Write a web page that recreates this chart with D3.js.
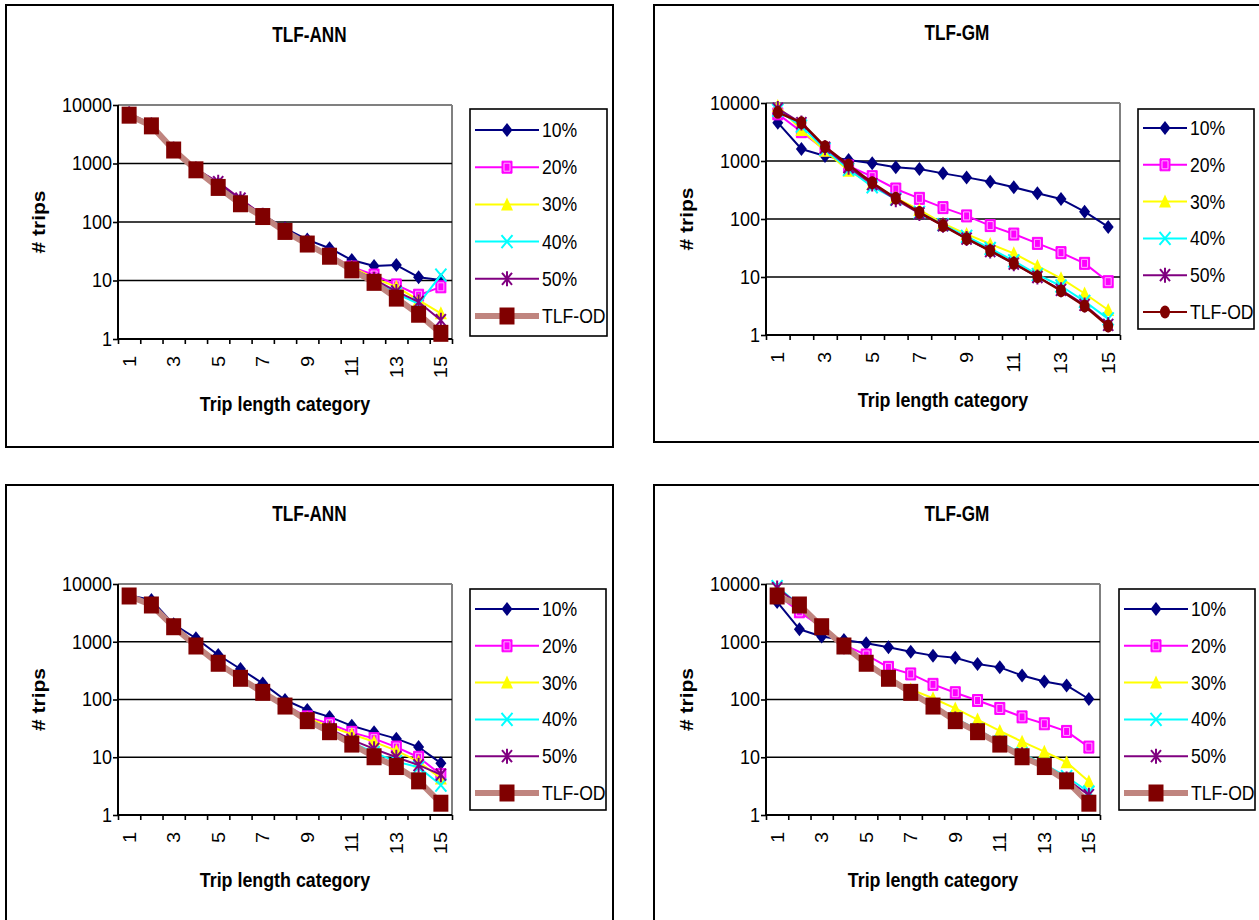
<!DOCTYPE html>
<html>
<head>
<meta charset="utf-8">
<script src="https://cdn.jsdelivr.net/npm/d3@7"></script>
<style>
body{margin:0;background:#fff}
svg{display:block}
text{font-family:"Liberation Sans",Arial,sans-serif;fill:#000}
</style>
</head>
<body>
<script>
// categories and labels
var categories = [1,2,3,4,5,6,7,8,9,10,11,12,13,14,15]
var xTickLabels = [1,3,5,7,9,11,13,15]
var yTicks = [1,10,100,1000,10000]
var seriesNames = ["10%","20%","30%","40%","50%","TLF-OD"]

// values, one row per series (10% .. 50%, TLF-OD)
var annTop = [
  [7200,4700,1800,830,450,235,132,78,50,35.6,22.4,17.7,18.4,11.4,10.2],
  [6800,4450,1720,790,400,215,126,72,44,28,17,12.4,8.4,5.6,7.8],
  [6800,4450,1720,790,400,212,126,72,44,27,17,11,7.8,4.6,2.75],
  [6700,4400,1700,780,390,205,124,70,42,26,15.5,10,6,4,12.4],
  [7000,4500,1750,800,480,250,130,74,45,27,16,10.5,6.5,4.3,2.1],
  [6700,4400,1700,780,390,205,124,69,42,26,15.2,9.3,5.0,2.65,1.25]
]
var gmTop = [
  [4580,1610,1220,1040,912,778,728,612,522,440,352,277,221,134,73],
  [6500,3200,1550,820,537,329,227,157,113,77,55,38,26.3,17.2,8.3],
  [8900,3420,1500,680,400,232,143,84,55,37,25.6,15.5,9.5,5.2,2.7],
  [7500,4000,1600,720,360,220,130,80,50,31,19,11,7,3.8,1.9],
  [8000,4500,1700,780,400,215,125,78,46,28,17,10,6,3.3,1.5],
  [6900,4570,1765,853,423,228,130,77,45.7,28.4,17.2,10.1,5.8,3.16,1.43]
]
var annBottom = [
  [6400,5300,2000,1150,590,337,190,98,66,50,35,27,21,15,7.9],
  [6300,4400,1850,870,440,245,140,80,50,38,27,21,15,10,5],
  [6300,4400,1850,860,430,240,137,78,48,34,25,18.5,13,8.4,4.3],
  [6200,4350,1830,850,425,235,133,77,44,30,18,12,8.4,6.7,3.3],
  [6200,4350,1830,850,425,235,133,77,45,31,20,14,10,7.3,5],
  [6200,4330,1820,844,424,233,133,77,43,27.7,16.9,10.2,6.9,3.9,1.6]
]
var gmBottom = [
  [4900,1650,1230,1070,940,800,670,575,530,410,360,260,205,175,102],
  [6500,3300,1800,880,590,360,277,183,131,96,70,50,38,28,15],
  [8500,4200,1800,780,420,240,150,105,70,45,28.5,18.6,12.5,8.2,3.8],
  [9000,4300,1800,800,420,235,135,80,47,30,18.5,11.5,7.5,4.6,2.5],
  [8500,4300,1800,820,420,235,135,78,46,29,17.5,11,7,4.2,2.2],
  [6200,4330,1820,844,424,233,133,77,43,27.7,16.9,10.2,6.9,3.9,1.6]
]

var colors = ["#000080","#FF00FF","#FFFF00","#00FFFF","#800080","#800000"]
var shapes = ["diamond","square","triangle","cross","star","bigsquare"]
var odLine = "#C0857F"

var panels = [
  {title:"TLF-ANN", values:annTop, od:"ann", frame:[6,5,613,447], plot:[118,105,452,339],
   legend:{box:[470,109,607,336], line:[475,539], text:542, y0:130, dy:37.2}},
  {title:"TLF-GM", values:gmTop, od:"gm", frame:[654,5,1265,442], plot:[766,103,1120,335],
   legend:{box:[1138,109,1254,329], line:[1143,1187], text:1190, y0:128, dy:36.8}},
  {title:"TLF-ANN", values:annBottom, od:"ann", frame:[6,485,613,930], plot:[118,584,452,815],
   legend:{box:[470,589,606,810], line:[475,539], text:542, y0:609, dy:36.8}},
  {title:"TLF-GM", values:gmBottom, od:"ann", frame:[654,485,1265,930], plot:[766,584,1100,815],
   legend:{box:[1119,589,1255,810], line:[1124,1188], text:1191, y0:609, dy:36.8}}
]

var svg = d3.select("body").append("svg")
  .attr("width",1259).attr("height",920)

function markerPath(shape){
  if(shape=="diamond") return "M0,-7L5.5,0L0,7L-5.5,0Z"
  if(shape=="square") return "M-5,-6h10v12h-10Z"
  if(shape=="triangle") return "M0,-7L6,6L-6,6Z"
  if(shape=="cross") return "M-5.5,-6.5L5.5,6.5M5.5,-6.5L-5.5,6.5"
  if(shape=="star") return "M-5,-6L5,6M5,-6L-5,6M0,-7.5V7.5"
  if(shape=="bigsquare") return "M-7.5,-8.5h15v17h-15Z"
}

function drawMarker(g, s, od){
  var shape = shapes[s], c = colors[s]
  if(s==5 && od=="gm"){
    g.append("ellipse").attr("rx",5).attr("ry",6.5).attr("fill",c)
    return
  }
  var p = g.append("path").attr("d",markerPath(shape))
  if(shape=="cross" || shape=="star"){
    p.attr("fill","none").attr("stroke",c).attr("stroke-width",2)
  } else if(shape=="square"){
    p.attr("fill","#FF00FF").attr("stroke","#FF00FF").attr("stroke-width",1)
    g.append("path").attr("d","M-3,-4h6v8h-6Z").attr("fill","none")
     .attr("stroke","#FFB0FF").attr("stroke-width",1)
  } else {
    p.attr("fill",c)
  }
}

function hText(g, x, y, str, size, weight, anchor, sx){
  return g.append("text")
    .attr("transform","translate("+x+","+y+") scale("+sx+",1)")
    .attr("text-anchor",anchor)
    .style("font-size",size+"px")
    .style("font-weight",weight)
    .text(str)
}

panels.forEach(function(p){
  var g = svg.append("g")
  var f = p.frame
  g.append("rect").attr("x",f[0]).attr("y",f[1]).attr("width",f[2]-f[0]).attr("height",f[3]-f[1])
   .attr("fill","#fff").attr("stroke","#000").attr("stroke-width",2)

  var L = p.plot[0], T = p.plot[1], R = p.plot[2], B = p.plot[3]
  var x = d3.scaleBand().domain(categories).range([L,R]).padding(0)
  var xb = d3.scaleLinear().domain([0,categories.length]).range([L,R])
  var y = d3.scaleLog().domain([1,10000]).range([B,T])

  // title (centred on the chart area) and axis titles
  var cx = (f[0] + Math.min(f[2],1260))/2
  hText(g,cx,T-63,p.title,22,"bold","middle",0.78)
  hText(g,(L+R)/2,B+72,"Trip length category",21,"bold","middle",0.85)
  g.append("text")
    .attr("transform","translate("+(f[0]+39)+","+((T+B)/2)+") rotate(-90) scale(1,0.85)")
    .attr("text-anchor","middle").style("font-size","21px").style("font-weight","bold")
    .text("# trips")

  // plot area frame and grid
  g.append("line").attr("x1",L).attr("x2",R).attr("y1",T).attr("y2",T).attr("stroke","#808080").attr("stroke-width",2)
  g.append("line").attr("x1",R).attr("x2",R).attr("y1",T).attr("y2",B).attr("stroke","#808080").attr("stroke-width",2)
  g.selectAll(".grid").data(yTicks.filter(function(d){return d>1 && d<10000})).enter()
    .append("line").attr("x1",L).attr("x2",R)
    .attr("y1",function(d){return y(d)}).attr("y2",function(d){return y(d)})
    .attr("stroke","#000").attr("stroke-width",1.6)

  var ya = g.append("g").attr("transform","translate("+L+",0)")
    .call(d3.axisLeft(y).tickValues(yTicks).tickFormat(d3.format("d")).tickSize(5))
  ya.select(".domain").remove()
  ya.selectAll("line").attr("stroke","#000").attr("stroke-width",1.6)
  ya.selectAll("text").attr("x",-6/0.9).attr("transform","scale(0.9,1)")
    .style("font-size","20px").style("font-family",null)

  var xa = g.append("g").attr("transform","translate(0,"+B+")")
    .call(d3.axisBottom(xb).tickValues(d3.range(categories.length+1)).tickFormat("").tickSize(5))
  xa.select(".domain").remove()
  xa.selectAll("line").attr("stroke","#000").attr("stroke-width",1.6)

  var xl = g.append("g").attr("transform","translate(0,"+B+")")
    .call(d3.axisBottom(x).tickValues(xTickLabels).tickSize(0))
  xl.select(".domain").remove()
  xl.selectAll("text").attr("transform","rotate(-90) scale(1,0.9)")
    .attr("text-anchor","end").attr("x",-17).attr("y",0).attr("dy","0.36em")
    .style("font-size","20px").style("font-family",null)

  g.append("line").attr("x1",L).attr("x2",L).attr("y1",T).attr("y2",B+1).attr("stroke","#000").attr("stroke-width",2)
  g.append("line").attr("x1",L-1).attr("x2",R).attr("y1",B).attr("y2",B).attr("stroke","#000").attr("stroke-width",2)

  // series
  var line = d3.line()
    .x(function(d,i){return x(categories[i])+x.bandwidth()/2})
    .y(function(d){return y(d)})
  p.values.forEach(function(vals,s){
    var isOD = s==5
    var lc = colors[s], lw = 2
    if(isOD && p.od=="ann"){ lc = odLine; lw = 6 }
    if(isOD && p.od=="gm"){ lw = 2.5 }
    g.append("path").attr("d",line(vals)).attr("fill","none")
      .attr("stroke",lc).attr("stroke-width",lw).attr("stroke-linejoin","round")
    g.selectAll(".m"+s).data(vals).enter().append("g")
      .attr("transform",function(d,i){return "translate("+(x(categories[i])+x.bandwidth()/2)+","+y(d)+")"})
      .each(function(){ drawMarker(d3.select(this),s,p.od) })
  })

  // legend
  var lg = p.legend
  g.append("rect").attr("x",lg.box[0]).attr("y",lg.box[1])
    .attr("width",lg.box[2]-lg.box[0]).attr("height",lg.box[3]-lg.box[1])
    .attr("fill","#fff").attr("stroke","#000").attr("stroke-width",1.6)
  seriesNames.forEach(function(name,s){
    var yy = lg.y0 + s*lg.dy
    var lc = colors[s], lw = 2
    if(s==5 && p.od=="ann"){ lc = odLine; lw = 6 }
    g.append("line").attr("x1",lg.line[0]).attr("x2",lg.line[1]).attr("y1",yy).attr("y2",yy)
      .attr("stroke",lc).attr("stroke-width",lw)
    var mg = g.append("g").attr("transform","translate("+((lg.line[0]+lg.line[1])/2)+","+yy+")")
    drawMarker(mg,s,p.od)
    hText(g,lg.text,yy+7,name,20,"normal","start",0.88)
  })
})
</script>
</body>
</html>
